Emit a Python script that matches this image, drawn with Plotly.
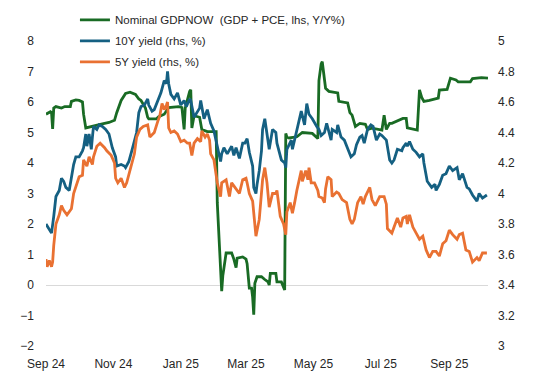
import pandas as pd
import plotly.graph_objects as go

START = "2024-09-01"

# Nominal GDPNOW (lhs, Y/Y%) - day offset from START, value
gdp_day = [0, 4, 5, 6, 7, 9, 14, 17, 22, 23, 27, 30, 33, 34, 36, 39, 45, 51, 57, 62,
           64, 68, 72, 76, 81, 84, 86, 90, 92, 93, 100, 102, 107, 111, 120, 123, 125, 126, 130, 131,
           132, 134, 139, 141, 146, 154, 155, 157, 159, 160, 163, 168, 170, 172, 173, 178, 181, 182, 184, 186,
           187, 188, 189, 191, 195, 198, 201, 202, 203, 208, 209, 213, 216, 217, 218, 220, 227, 232, 241, 246,
           247, 249, 250, 253, 256, 264, 265, 273, 275, 277, 279, 280, 284, 289, 291, 295, 304, 306, 308, 311,
           313, 320, 323, 326, 327, 336, 338, 340, 342, 347, 353, 355, 356, 363, 366, 371, 373, 384, 386, 392,
           394, 400]
gdp_val = [5.6, 5.68, 5.65, 5.12, 5.8, 5.85, 5.8, 5.85, 5.85, 6.02, 6.07, 6.05, 6.0, 5.6, 5.15, 5.18, 5.22, 5.28, 5.33, 5.4,
           5.65, 6.05, 6.28, 6.32, 6.25, 6.1, 6.05, 5.8, 5.5, 5.45, 5.45, 5.52, 5.6, 5.82, 5.85, 5.82, 5.1, 5.8, 6.35, 6.4,
           5.15, 5.55, 5.5, 5.1, 5.03, 5.03, 2.7, 0.95, -0.2, 0.3, 1.05, 1.05, 0.85, 0.57, 0.88, 0.92, 0.85, 0.7, -0.1, -0.1,
           -0.4, -0.97, 0.06, 0.27, 0.27, 0.18, 0.1, 0.0, 0.38, 0.38, 0.1, 0.1, -0.16, 4.97, 4.85, 4.82, 4.86, 5.0, 4.97, 4.8,
           6.7, 7.25, 7.32, 6.45, 6.35, 6.3, 6.02, 5.97, 5.65, 5.57, 5.25, 5.2, 5.3, 5.27, 5.1, 5.14, 5.08, 5.57, 5.1, 5.3,
           5.3, 5.41, 5.46, 5.46, 5.15, 5.08, 6.4, 6.15, 6.02, 6.05, 6.12, 6.13, 6.39, 6.41, 6.78, 6.72, 6.66, 6.66, 6.77, 6.78,
           6.8, 6.78]

# 10Y yield (rhs, %)
y10_day = [0, 3, 5, 7, 9, 12, 14, 16, 18, 21, 23, 25, 27, 30, 33, 34, 36, 37, 39, 41,
           42, 43, 46, 48, 51, 54, 57, 60, 63, 64, 68, 71, 72, 75, 78, 82, 84, 86, 89, 92,
           93, 96, 98, 101, 104, 107, 109, 110, 111, 113, 116, 119, 122, 125, 127, 130, 131, 134, 137, 139,
           140, 143, 146, 149, 152, 155, 158, 159, 161, 164, 168, 170, 172, 175, 178, 180, 182, 184, 187, 188,
           190, 191, 193, 195, 196, 198, 200, 202, 205, 208, 209, 213, 216, 217, 218, 222, 223, 225, 227, 231,
           234, 236, 238, 241, 245, 247, 249, 252, 254, 256, 258, 259, 263, 264, 267, 270, 273, 276, 279, 281,
           284, 286, 288, 291, 294, 296, 299, 302, 304, 308, 311, 313, 315, 318, 322, 323, 326, 327, 329, 332,
           335, 338, 341, 342, 345, 349, 352, 353, 356, 359, 362, 365, 368, 372, 374, 377, 381, 383, 386, 390,
           392, 395, 399]
y10_val = [3.80, 3.76, 3.74, 3.85, 3.98, 4.02, 4.10, 4.08, 4.04, 4.02, 4.11, 4.19, 4.24, 4.24, 4.28, 4.30, 4.39, 4.31, 4.39, 4.29,
           4.37, 4.44, 4.42, 4.45, 4.44, 4.42, 4.39, 4.30, 4.24, 4.18, 4.19, 4.18, 4.17, 4.21, 4.29, 4.40, 4.53, 4.57, 4.58, 4.62,
           4.58, 4.54, 4.55, 4.60, 4.66, 4.74, 4.72, 4.80, 4.72, 4.65, 4.62, 4.66, 4.58, 4.61, 4.57, 4.62, 4.61, 4.50, 4.54, 4.56,
           4.61, 4.49, 4.55, 4.46, 4.41, 4.31, 4.21, 4.26, 4.30, 4.26, 4.31, 4.25, 4.30, 4.23, 4.33, 4.33, 4.36, 4.27, 4.18, 4.04,
           4.00, 4.06, 4.15, 4.28, 4.42, 4.49, 4.37, 4.29, 4.42, 4.40, 4.33, 4.22, 4.20, 4.17, 4.29, 4.35, 4.29, 4.35, 4.42, 4.54,
           4.45, 4.59, 4.52, 4.49, 4.44, 4.42, 4.38, 4.40, 4.46, 4.40, 4.35, 4.42, 4.40, 4.45, 4.37, 4.35, 4.29, 4.24, 4.26, 4.32,
           4.37, 4.38, 4.33, 4.42, 4.45, 4.44, 4.35, 4.39, 4.38, 4.35, 4.22, 4.20, 4.22, 4.29, 4.28, 4.30, 4.33, 4.31, 4.34, 4.29,
           4.27, 4.24, 4.26, 4.20, 4.08, 4.04, 4.06, 4.02, 4.06, 4.12, 4.13, 4.18, 4.15, 4.17, 4.09, 4.13, 4.04, 4.03, 3.99, 3.95,
           4.00, 3.97, 3.99]

# 5Y yield (rhs, %)
y5_day = [0, 1, 3, 5, 6, 7, 9, 12, 14, 16, 19, 23, 25, 28, 30, 33, 34, 37, 39, 42,
          43, 46, 49, 53, 55, 59, 62, 63, 65, 68, 71, 73, 77, 80, 82, 85, 88, 92, 94, 98,
          101, 103, 105, 107, 109, 110, 111, 113, 116, 119, 122, 125, 128, 130, 132, 134, 137, 140, 141, 144,
          146, 148, 149, 152, 155, 158, 159, 163, 166, 168, 170, 172, 175, 178, 181, 182, 184, 187, 189, 190,
          193, 196, 198, 200, 202, 205, 208, 209, 212, 215, 217, 218, 221, 223, 225, 227, 231, 232, 235, 237,
          238, 240, 243, 246, 247, 250, 252, 253, 255, 258, 259, 263, 265, 268, 272, 275, 277, 279, 282, 285,
          287, 289, 293, 295, 298, 302, 306, 308, 309, 313, 315, 318, 321, 323, 326, 327, 329, 332, 335, 338,
          341, 344, 347, 350, 353, 356, 359, 362, 365, 368, 372, 374, 377, 380, 383, 386, 390, 392, 395, 399]
y5_val = [3.57, 3.52, 3.56, 3.52, 3.55, 3.66, 3.80, 3.86, 3.92, 3.89, 3.86, 3.90, 4.00, 4.06, 4.11, 4.12, 4.22, 4.18, 4.24, 4.19,
          4.24, 4.31, 4.33, 4.30, 4.28, 4.25, 4.20, 4.10, 4.07, 4.10, 4.04, 4.07, 4.18, 4.26, 4.37, 4.42, 4.44, 4.45, 4.37, 4.40,
          4.47, 4.51, 4.59, 4.55, 4.58, 4.60, 4.43, 4.40, 4.41, 4.39, 4.34, 4.35, 4.33, 4.33, 4.25, 4.33, 4.36, 4.34, 4.41, 4.37,
          4.39, 4.35, 4.26, 4.22, 4.07, 3.98, 4.07, 4.09, 3.98, 4.07, 4.05, 4.03, 4.00, 4.09, 4.10, 4.07, 4.00, 3.95, 3.80, 3.72,
          3.83, 4.09, 4.17, 4.07, 3.91, 4.00, 4.00, 4.02, 3.85, 3.80, 3.73, 3.88, 3.94, 3.87, 3.94, 4.02, 4.15, 4.08, 4.15, 4.09,
          4.17, 4.07, 4.07, 4.02, 3.98, 3.97, 3.94, 4.03, 4.11, 4.09, 3.98, 4.01, 4.00, 3.96, 3.94, 3.83, 3.80, 3.83, 3.94, 3.98,
          3.93, 3.98, 4.04, 3.96, 3.92, 3.98, 3.98, 3.93, 3.77, 3.74, 3.78, 3.84, 3.78, 3.84, 3.85, 3.80, 3.86, 3.78, 3.74, 3.70,
          3.72, 3.63, 3.58, 3.62, 3.62, 3.59, 3.67, 3.69, 3.76, 3.73, 3.70, 3.73, 3.74, 3.63, 3.62, 3.55, 3.58, 3.56, 3.61, 3.61]

names = ["Nominal GDPNOW\u00a0 (GDP + PCE, lhs, Y/Y%)", "10Y yield (rhs, %)", "5Y yield (rhs, %)"]
colors = ["#196B24", "#156082", "#E97132"]


def to_dates(days):
    return pd.Timestamp(START) + pd.to_timedelta(days, unit="D")


FONT = "Liberation Sans, Arial, sans-serif"
TXT = "#262626"

fig = go.Figure()
fig.add_trace(go.Scatter(x=to_dates(gdp_day), y=gdp_val, name=names[0], mode="lines", legendgroup="a",
                         line=dict(color=colors[0], width=2.8), yaxis="y"))
fig.add_trace(go.Scatter(x=to_dates(y10_day), y=y10_val, name=names[1], mode="lines", legendgroup="b",
                         line=dict(color=colors[1], width=2.8), yaxis="y2"))
fig.add_trace(go.Scatter(x=to_dates(y5_day), y=y5_val, name=names[2], mode="lines", legendgroup="c",
                         line=dict(color=colors[2], width=2.8), yaxis="y2"))

# page body has an 8px default margin; the figure is sized to fill the rest of the window
fig.update_layout(
    width=534, height=376,
    margin=dict(l=38, r=54, t=33, b=38, autoexpand=False),
    paper_bgcolor="white", plot_bgcolor="white",
    font=dict(family=FONT, size=12, color=TXT),
    showlegend=True,
    legend=dict(x=0.0655, xanchor="left", y=1.1166, yanchor="top",
                bgcolor="rgba(0,0,0,0)", font=dict(size=11.5, color=TXT),
                itemwidth=30, tracegroupgap=2, traceorder="grouped"),
    xaxis=dict(type="date", range=[to_dates([0])[0], to_dates([400])[0]],
               tick0=START, dtick="M2", tickformat="%b %y",
               showgrid=False, zeroline=False, showline=False,
               ticklabelstandoff=9, tickfont=dict(size=12, color=TXT)),
    yaxis=dict(range=[-2, 8], dtick=1, showgrid=False, zeroline=True,
               zerolinecolor="#d9d9d9", zerolinewidth=1, showline=False,
               ticklabelstandoff=11, tickfont=dict(size=12, color=TXT)),
    yaxis2=dict(range=[3, 5], dtick=0.2, overlaying="y", side="right",
                showgrid=False, zeroline=False, showline=False,
                ticklabelstandoff=9, tickfont=dict(size=12, color=TXT)),
)

fig.write_html("out.html")
